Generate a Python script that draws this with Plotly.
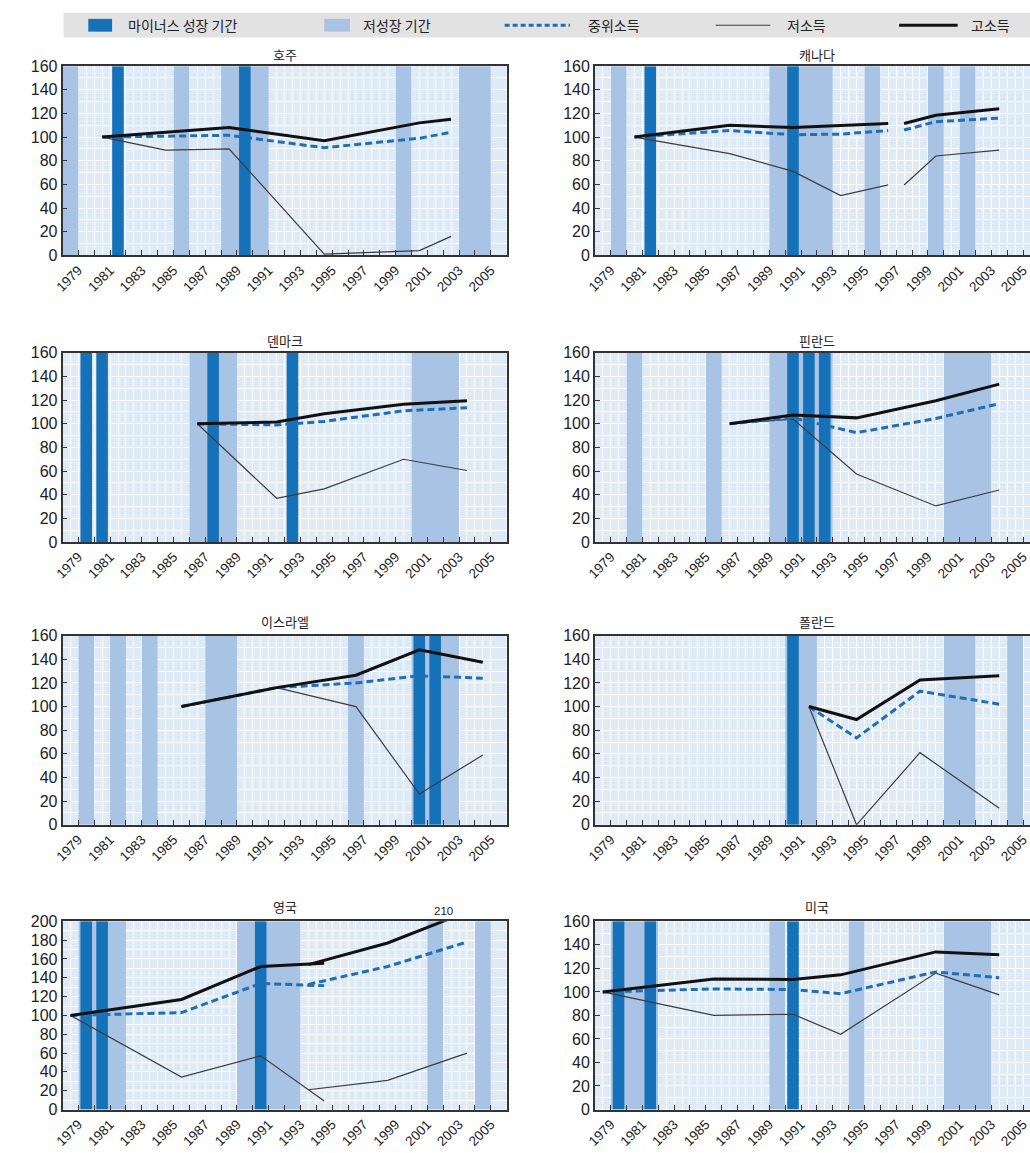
import plotly.graph_objects as go
from plotly.subplots import make_subplots

# ---------------- data ----------------
YEAR_TICKS = list(range(1979, 2006))

AUS_YEARS = [1981, 1985, 1989, 1995, 2001, 2003]
AUS_HIGH = [100, 104, 108, 97, 112, 115]
AUS_MED = [100, 101, 101.5, 91, 99, 104]
AUS_LOW = [100, 89, 90, 1, 4, 16]
AUS_DARK = [1982, 1990]
AUS_LIGHT = [(1979, 1979), (1986, 1986), (1989, 1991), (2000, 2000), (2004, 2005)]

CAN_YEARS_A = [1981, 1987, 1991, 1994, 1997]
CAN_HIGH_A = [100, 110, 108, 109.5, 111.5]
CAN_MED_A = [100, 105.5, 102, 102.5, 105.5]
CAN_LOW_A = [100, 86, 71, 50.5, 59.5]
CAN_YEARS_B = [1998, 2000, 2004]
CAN_HIGH_B = [111.5, 118.5, 124]
CAN_MED_B = [106, 113, 116]
CAN_LOW_B = [59.5, 84, 89]
CAN_DARK = [1982, 1991]
CAN_LIGHT = [(1980, 1980), (1990, 1993), (1996, 1996), (2000, 2000), (2002, 2002)]

DNK_YEARS = [1987, 1992, 1995, 2000, 2004]
DNK_HIGH = [100, 101.5, 108.5, 116.5, 119.5]
DNK_MED = [100, 99, 102, 111, 113.5]
DNK_LOW = [100, 37, 45, 70, 60.5]
DNK_DARK = [1980, 1981, 1988, 1993]
DNK_LIGHT = [(1987, 1989), (2001, 2003)]

FIN_YEARS = [1987, 1991, 1995, 2000, 2004]
FIN_HIGH = [100, 107.5, 105, 119.5, 133.5]
FIN_MED = [100, 105, 92.5, 104.5, 117]
FIN_LOW = [100, 104, 57.5, 30.5, 44]
FIN_DARK = [1991, 1992, 1993]
FIN_LIGHT = [(1981, 1981), (1986, 1986), (1990, 1993), (2001, 2003)]

ISR_YEARS = [1986, 1992, 1997, 2001, 2005]
ISR_HIGH = [100, 116, 126.5, 148, 137.5]
ISR_MED = [100, 116, 120, 126, 124]
ISR_LOW = [100, 116, 100, 26, 59]
ISR_DARK = [2001, 2002]
ISR_LIGHT = [(1980, 1980), (1982, 1982), (1984, 1984), (1988, 1989), (1997, 1997), (2001, 2003)]

POL_YEARS = [1992, 1995, 1999, 2004]
POL_HIGH = [100, 89, 122.5, 126]
POL_MED = [100, 73.5, 113, 102]
POL_LOW = [100, 0, 61, 14]
POL_DARK = [1991]
POL_LIGHT = [(1991, 1992), (2001, 2002), (2005, 2005)]

GBR_YEARS_A = [1979, 1986, 1991, 1995]
GBR_HIGH_A = [100, 117, 152, 155.5]
GBR_MED_A = [100, 103, 134, 131.5]
GBR_LOW_A = [100, 34.5, 57, 9]
GBR_YEARS_B = [1994, 1999, 2004]
GBR_HIGH_B = [154, 177, 210]
GBR_MED_B = [133, 152, 178]
GBR_LOW_B = [21, 31, 60]
GBR_DARK = [1980, 1981, 1991]
GBR_LIGHT = [(1980, 1982), (1990, 1993), (2002, 2002), (2005, 2005)]

USA_YEARS = [1979, 1986, 1991, 1994, 2000, 2004]
USA_HIGH = [100, 111, 110.5, 114.5, 134, 131.5]
USA_MED = [100, 102.5, 102, 98.5, 117, 112]
USA_LOW = [100, 80, 81, 64, 116, 97.5]
USA_DARK = [1980, 1982, 1991]
USA_LIGHT = [(1980, 1982), (1990, 1990), (1995, 1995), (2001, 2003)]

LEGEND_LABELS = ["마이너스 성장 기간", "저성장 기간", "중위소득", "저소득", "고소득"]

PANELS = [
    ("호주", [(AUS_YEARS, AUS_HIGH, AUS_MED, AUS_LOW)], AUS_DARK, AUS_LIGHT, 160),
    ("캐나다", [(CAN_YEARS_A, CAN_HIGH_A, CAN_MED_A, CAN_LOW_A),
             (CAN_YEARS_B, CAN_HIGH_B, CAN_MED_B, CAN_LOW_B)], CAN_DARK, CAN_LIGHT, 160),
    ("덴마크", [(DNK_YEARS, DNK_HIGH, DNK_MED, DNK_LOW)], DNK_DARK, DNK_LIGHT, 160),
    ("핀란드", [(FIN_YEARS, FIN_HIGH, FIN_MED, FIN_LOW)], FIN_DARK, FIN_LIGHT, 160),
    ("이스라엘", [(ISR_YEARS, ISR_HIGH, ISR_MED, ISR_LOW)], ISR_DARK, ISR_LIGHT, 160),
    ("폴란드", [(POL_YEARS, POL_HIGH, POL_MED, POL_LOW)], POL_DARK, POL_LIGHT, 160),
    ("영국", [(GBR_YEARS_A, GBR_HIGH_A, GBR_MED_A, GBR_LOW_A),
            (GBR_YEARS_B, GBR_HIGH_B, GBR_MED_B, GBR_LOW_B)], GBR_DARK, GBR_LIGHT, 200),
    ("미국", [(USA_YEARS, USA_HIGH, USA_MED, USA_LOW)], USA_DARK, USA_LIGHT, 160),
]

# ---------------- style ----------------
W, H = 1030, 1153
BG = "#deeaf6"
LIGHT = "#a9c3e4"
DARK = "#1571b8"
MEDC = "#1f6fb6"
LOWC = "#3c3c3c"
HIGHC = "#111111"
AXC = "#333333"
KFONT = "Noto Sans CJK KR"
NFONT = "Liberation Sans, Arial, sans-serif"


def PX(x):
    return x / W


def PY(y):
    return 1 - y / H


COL_X = [(54, 502), (591, 1030)]
ROW_Y = [(59, 251), (350, 542), (637, 829), (927, 1118)]
TITLE_Y = [47, 337, 623, 912]
TITLE_X = [278, 815]

fig = make_subplots(rows=4, cols=2)

shapes = []
annotations = []

for i, (title, segs, dark, light, ymax) in enumerate(PANELS):
    k = i + 1
    sfx = "" if k == 1 else str(k)
    row, col = divmod(i, 2)
    x0p, x1p = COL_X[col]
    ytop, ybot = ROW_Y[row]
    xr = [1978.5, 2006.5] if col == 0 else [1978.5, 1978.5 + (1030 - 591) / 16.0]

    for (a, b) in light:
        shapes.append(dict(type="rect", xref=f"x{sfx}", yref=f"y{sfx}",
                           x0=a - 0.5, x1=b + 0.5, y0=0, y1=ymax,
                           fillcolor=LIGHT, line_width=0, layer="between"))
    for yr in dark:
        shapes.append(dict(type="rect", xref=f"x{sfx}", yref=f"y{sfx}",
                           x0=yr - 0.37, x1=yr + 0.36, y0=0, y1=ymax,
                           fillcolor=DARK, line_width=0, layer="between"))

    for (yrs, hi, me, lo) in segs:
        fig.add_trace(go.Scatter(x=yrs, y=lo, mode="lines",
                                 line=dict(color=LOWC, width=1.2),
                                 showlegend=False, hoverinfo="skip"), row=row + 1, col=col + 1)
        fig.add_trace(go.Scatter(x=yrs, y=me, mode="lines",
                                 line=dict(color=MEDC, width=3, dash="7px,4px"),
                                 showlegend=False, hoverinfo="skip"), row=row + 1, col=col + 1)
        fig.add_trace(go.Scatter(x=yrs, y=hi, mode="lines",
                                 line=dict(color=HIGHC, width=3),
                                 showlegend=False, hoverinfo="skip"), row=row + 1, col=col + 1)

    fig.update_layout({
        f"xaxis{sfx}": dict(
            domain=[PX(x0p), PX(x1p) if col == 0 else 1.0],
            range=xr,
            tickmode="array",
            tickvals=[y + 0.5 for y in YEAR_TICKS],
            ticktext=[str(y) if y % 2 == 1 else "" for y in YEAR_TICKS],
            tickangle=-45,
            ticks="inside", ticklen=5, tickcolor=AXC, tickwidth=1,
            showline=True, linecolor=AXC, linewidth=1.6, mirror=True,
            showgrid=True, gridcolor="white", gridwidth=1,
            minor=dict(tickvals=YEAR_TICKS, showgrid=True, gridcolor="white", gridwidth=1, ticks=""),
            tickfont=dict(family=NFONT, size=13.5, color="#222"),
            zeroline=False, fixedrange=True,
        ),
        f"yaxis{sfx}": dict(
            domain=[PY(ybot), PY(ytop)],
            range=[0, ymax],
            tickmode="array",
            tickvals=list(range(0, ymax + 1, 20)),
            ticks="inside", ticklen=5, tickcolor=AXC, tickwidth=1,
            showline=True, linecolor=AXC, linewidth=1.6, mirror=(col == 0),
            showgrid=True, gridcolor="white", gridwidth=1,
            minor=dict(dtick=10, tick0=0, showgrid=True, gridcolor="white", gridwidth=1, ticks=""),
            tickfont=dict(family=NFONT, size=16, color="#222"),
            zeroline=False, fixedrange=True,
        ),
    })

    annotations.append(dict(text=title, xref="paper", yref="paper",
                            x=PX(TITLE_X[col]), y=PY(TITLE_Y[row]),
                            xanchor="center", yanchor="middle", showarrow=False,
                            font=dict(family=KFONT, size=13, color="#222")))

# value label for the clipped UK high-income line
annotations.append(dict(text=str(GBR_HIGH_B[-1]), xref="x7", yref="y7",
                        x=2002.5, y=200, yanchor="bottom", yshift=2, showarrow=False,
                        font=dict(family=NFONT, size=11.5, color="#222")))

# ---------------- legend band ----------------
shapes.append(dict(type="rect", xref="paper", yref="paper",
                   x0=PX(55), x1=1.0, y0=PY(30), y1=PY(5),
                   fillcolor="#e2e2e2", line_width=0, layer="above"))
ly = 17.5
shapes.append(dict(type="rect", xref="paper", yref="paper",
                   x0=PX(80), x1=PX(104), y0=PY(24), y1=PY(11),
                   fillcolor=DARK, line_width=0, layer="above"))
shapes.append(dict(type="rect", xref="paper", yref="paper",
                   x0=PX(318), x1=PX(344), y0=PY(24), y1=PY(11),
                   fillcolor=LIGHT, line_width=0, layer="above"))
shapes.append(dict(type="line", xref="paper", yref="paper",
                   x0=PX(500), x1=PX(566), y0=PY(ly), y1=PY(ly),
                   line=dict(color=MEDC, width=3, dash="5px,3px"), layer="above"))
shapes.append(dict(type="line", xref="paper", yref="paper",
                   x0=PX(713), x1=PX(768), y0=PY(ly), y1=PY(ly),
                   line=dict(color=LOWC, width=1.2), layer="above"))
shapes.append(dict(type="line", xref="paper", yref="paper",
                   x0=PX(898), x1=PX(957), y0=PY(ly), y1=PY(ly),
                   line=dict(color=HIGHC, width=3), layer="above"))
for txt, xl in zip(LEGEND_LABELS, [118, 355, 582, 783, 968]):
    annotations.append(dict(text=txt, xref="paper", yref="paper",
                            x=PX(xl), y=PY(ly), xanchor="left", yanchor="middle",
                            showarrow=False,
                            font=dict(family=KFONT, size=14, color="#222")))

fig.update_layout(
    width=W, height=H, autosize=False,
    margin=dict(l=0, r=0, t=0, b=0),
    paper_bgcolor="white", plot_bgcolor=BG,
    shapes=shapes, annotations=annotations,
    showlegend=False,
)

# put the figure flush with the page corner (no default body margin)
fig.write_html(
    "out.html",
    config={"displayModeBar": False},
    post_script="document.body.style.margin='0px';document.documentElement.style.overflow='hidden';",
)
